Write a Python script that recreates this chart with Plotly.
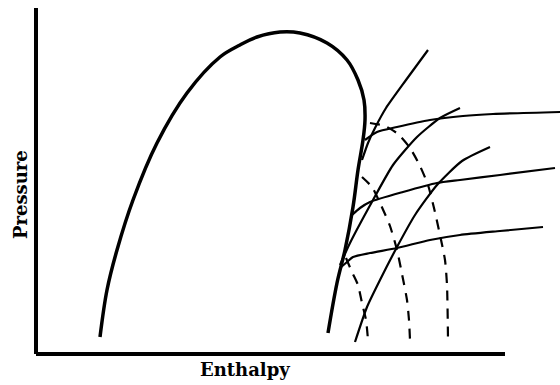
import plotly.graph_objects as go

# Pressure-enthalpy diagram (schematic units, origin at the axes corner)

# Saturation dome: liquid side, critical point, vapour side
dome_h = [64, 71, 81, 97, 121, 151, 184, 204, 221, 244, 264, 291, 311, 322, 328, 329, 327, 322, 317, 309, 301, 292]
dome_p = [17, 64, 104, 154, 211, 261, 297, 309, 317, 322, 321, 311, 294, 274, 254, 234, 214, 184, 147, 104, 71, 21]

# Steep solid curves leaving the vapour line
steep_a_h = [326, 332, 339, 350, 370, 392]
steep_a_p = [194, 211, 226, 246, 274, 304]
steep_b_h = [304, 314, 337, 357, 381, 404, 424]
steep_b_p = [89, 111, 154, 189, 217, 236, 246]
steep_c_h = [319, 331, 344, 361, 379, 401, 426, 454]
steep_c_p = [12, 47, 74, 107, 139, 169, 193, 207]

# Flat solid curves rising slowly with enthalpy
flat_1_h = [329, 341, 361, 394, 427, 457, 524]
flat_1_p = [214, 222, 227, 234, 238, 240, 242]
flat_2_h = [316, 324, 334, 367, 401, 424, 464, 519]
flat_2_p = [139, 146, 152, 162, 171, 174, 179, 186]
flat_3_h = [304, 311, 317, 334, 361, 394, 424, 464, 507]
flat_3_p = [86, 92, 97, 101, 106, 114, 119, 123, 127]

# Dashed curves dropping toward the enthalpy axis
dash_1_h = [310, 316, 322, 326, 330, 332]
dash_1_p = [96, 82, 69, 51, 34, 14]
dash_2_h = [326, 336, 344, 354, 361, 366, 371, 373, 374]
dash_2_p = [177, 167, 151, 128, 104, 80, 54, 34, 14]
dash_3_h = [334, 349, 362, 374, 384, 392, 398, 404, 409, 411, 412]
dash_3_p = [231, 228, 220, 206, 188, 169, 146, 119, 94, 69, 14]

H_MAX = 469
P_MAX = 346

fig = go.Figure()

def add_curve(h, p, width, dash="solid", smoothing=0.6):
    fig.add_trace(go.Scatter(
        x=h, y=p, mode="lines",
        line=dict(color="black", width=width, dash=dash, shape="spline", smoothing=smoothing),
        hoverinfo="skip", showlegend=False,
    ))

add_curve(dome_h, dome_p, 3.5, smoothing=1.0)
for h, p in [(steep_a_h, steep_a_p), (steep_b_h, steep_b_p), (steep_c_h, steep_c_p),
             (flat_1_h, flat_1_p), (flat_2_h, flat_2_p), (flat_3_h, flat_3_p)]:
    add_curve(h, p, 2.2)
for h, p in [(dash_1_h, dash_1_p), (dash_2_h, dash_2_p), (dash_3_h, dash_3_p)]:
    add_curve(h, p, 2.2, dash="10px,8px")

# Axis lines
fig.add_shape(type="line", x0=0, y0=0, x1=H_MAX, y1=0, line=dict(color="black", width=4))
fig.add_shape(type="line", x0=0, y0=0, x1=0, y1=P_MAX, line=dict(color="black", width=4))

label_font = dict(family="DejaVu Serif", size=18, color="black", weight="bold")
fig.add_annotation(x=209, y=-15, text="Enthalpy", showarrow=False,
                   xanchor="center", yanchor="middle", font=label_font)
fig.add_annotation(x=-16, y=159, text="Pressure", showarrow=False, textangle=-90,
                   xanchor="center", yanchor="middle", font=label_font)

fig.update_layout(
    width=560, height=385,
    margin=dict(l=0, r=0, t=0, b=0),
    paper_bgcolor="white", plot_bgcolor="white",
    xaxis=dict(range=[-36, 524], visible=False, fixedrange=True),
    yaxis=dict(range=[-31, 354], visible=False, fixedrange=True),
)

fig.write_html("out.html")
